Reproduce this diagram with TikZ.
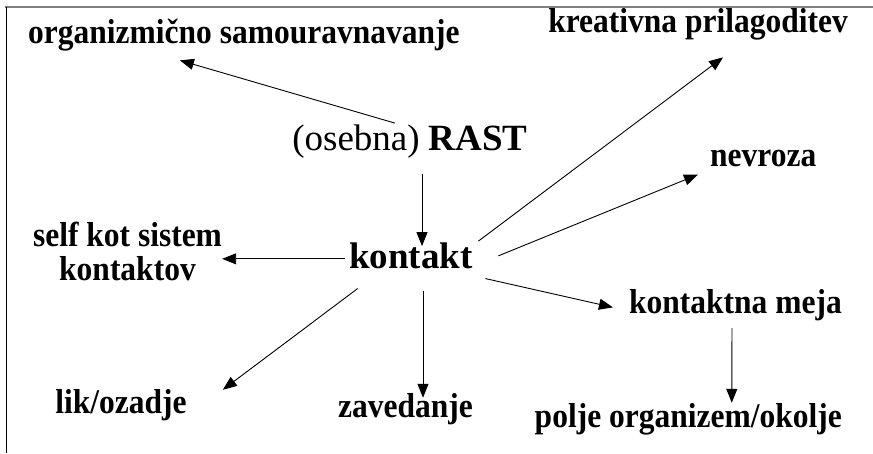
\documentclass[tikz,border=0pt]{standalone}
\usepackage{graphicx}
\usepackage{fontspec}
\setmainfont{Liberation Serif}
\usetikzlibrary{arrows.meta}
\newcommand{\tall}[1]{\scalebox{1}[1.1]{#1}}

\begin{document}
\begin{tikzpicture}[x=1pt,y=-1pt,
    lbl/.style={font=\bfseries\fontsize{31.5}{34}\selectfont, inner sep=0pt},
    big/.style={font=\fontsize{37}{40}\selectfont, inner sep=0pt},
    arr/.style={-{Triangle[length=14pt,width=11pt]}, line width=0.9pt}]
  \useasboundingbox (0,0) rectangle (873,453);
  \draw[gray, line width=1.6pt] (5,7) -- (873,7);
  \draw[line width=1pt] (6,7) -- (6,453);
  % labels
  \node[lbl, anchor=base west] (org) at (28,43) {\tall{organizmično samouravnavanje}};
  \node[lbl, anchor=base east] (krea) at (848,32) {\tall{kreativna prilagoditev}};
  \node[big, anchor=base] (rast) at (410,150) {(osebna) \textbf{RAST}};
  \node[big, font=\bfseries\fontsize{37}{40}\selectfont, anchor=base] (kontakt) at (411,268) {kontakt};
  \node[lbl, anchor=base west] (nevroza) at (710,166) {\tall{nevroza}};
  \node[lbl, align=center] (self) at (127.5,251) {\tall{self kot sistem}\\\tall{kontaktov}};
  \node[lbl, anchor=base east] (meja) at (842,313) {\tall{kontaktna meja}};
  \node[lbl, anchor=base] (lik) at (121,413) {\tall{lik/ozadje}};
  \node[lbl, anchor=base] (zav) at (405.5,417) {\tall{zavedanje}};
  \node[lbl, anchor=base east] (polje) at (842,427) {\tall{polje organizem/okolje}};
  % arrows
  \draw[arr] ([shift={(-15,-1)}]rast.north) -- ([shift={(-64,9.5)}]org.south);
  \draw[arr] ([shift={(12,16)}]rast.south) -- ([shift={(11,4)}]kontakt.north);
  \draw[arr] ([shift={(5.5,-1)}]kontakt.north east) -- ([shift={(25,17.5)}]krea.south);
  \draw[arr] ([shift={(25.5,0.5)}]kontakt.east) -- ([shift={(-12,8)}]nevroza.south west);
  \draw[arr] ([shift={(-4.5,3.5)}]kontakt.west) coordinate (kw) -- (kw -| self.east);
  \draw[arr] ([shift={(12.5,10)}]kontakt.south east) -- ([shift={(-16,2.7)}]meja.west);
  \draw[arr] ([shift={(8.5,20)}]kontakt.south west) -- ([shift={(36,1)}]lik.north east);
  \draw[arr] ([shift={(12,22)}]kontakt.south) -- ([shift={(17.5,5)}]zav.north);
  \draw[arr] ([shift={(-3.5,7.5)}]meja.south) -- ([shift={(43.5,0)}]polje.north);
\end{tikzpicture}
\end{document}
